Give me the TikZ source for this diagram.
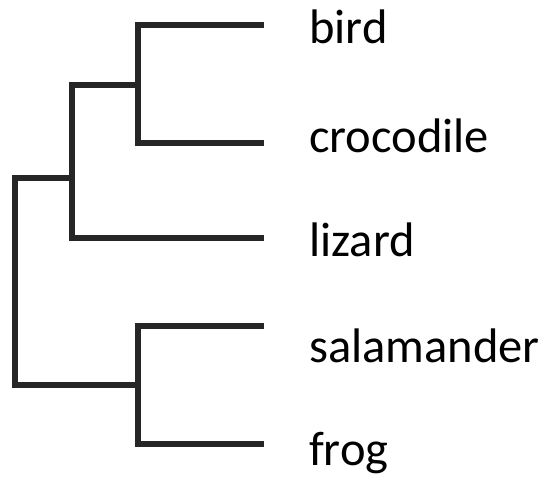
\documentclass[tikz,border=0pt]{standalone}
\usepackage{fontspec}
\setmainfont{Carlito}
\begin{document}
\begin{tikzpicture}[x=1pt,y=-1pt,
  branch/.style={line width=5.5pt,draw=black!85,line cap=rect,line join=miter},
  leaf/.style={anchor=base west,inner sep=0pt,font=\fontsize{48.5}{48.5}\selectfont}]
\useasboundingbox (0,0) rectangle (539,479);
\coordinate (b) at (261,25);
\coordinate (c) at (261,143);
\coordinate (l) at (261,238);
\coordinate (s) at (261,326);
\coordinate (f) at (261,444);
\coordinate (n1) at (138,85);
\coordinate (n2) at (72,178);
\coordinate (n3) at (138,385);
\coordinate (r) at (15,280);
\node[leaf] (tb) at (309,43) {bird};
\node[leaf] (tc) at (309,152) {crocodile};
\node[leaf] (tl) at (309,256) {lizard};
\node[leaf] (ts) at (309,362) {salamander};
\node[leaf] (tf) at (309,465) {frog};
\draw[branch] (b) -| (n1) |- (c);
\draw[branch] (n1) -- (n2 |- n1);
\draw[branch] (n2 |- n1) |- (l);
\draw[branch] (n2) -- (r |- n2);
\draw[branch] (r |- n2) |- (n3);
\draw[branch] (s) -| (n3) |- (f);
\end{tikzpicture}
\end{document}
